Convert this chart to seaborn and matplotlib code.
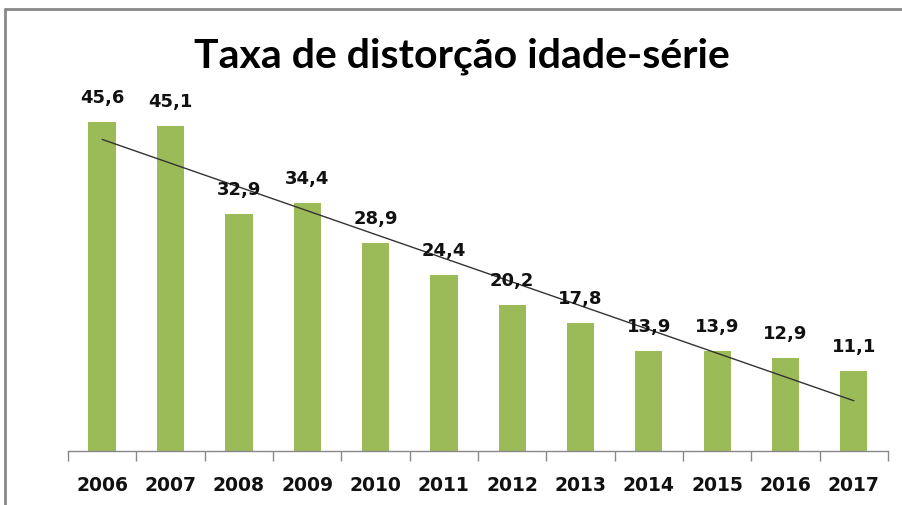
import matplotlib
matplotlib.use("Agg")
import matplotlib.pyplot as plt
import seaborn as sns
import numpy as np
import pandas as pd
from matplotlib.lines import Line2D

years = ["2006", "2007", "2008", "2009", "2010", "2011",
         "2012", "2013", "2014", "2015", "2016", "2017"]
values = [45.6, 45.1, 32.9, 34.4, 28.9, 24.4, 20.2, 17.8, 13.9, 13.9, 12.9, 11.1]
labels = ["45,6", "45,1", "32,9", "34,4", "28,9", "24,4",
          "20,2", "17,8", "13,9", "13,9", "12,9", "11,1"]
title = "Taxa de distorção idade-série"

sns.set_theme(style="white")
plt.rcParams['font.family'] = ['DejaVu Sans']

W, H = 902, 506
fig = plt.figure(figsize=(W / 100, H / 100), dpi=100)
ax = fig.add_axes([68 / W, 54 / H, 820 / W, 360.5 / H])

df = pd.DataFrame({"ano": years, "taxa": values})
sns.barplot(data=df, x="ano", y="taxa", color="#9BBB59", saturation=1,
            width=0.4, ax=ax, edgecolor="none")

# linear trendline
xs = np.arange(len(values))
m, b = np.polyfit(xs, values, 1)
ax.plot([xs[0], xs[-1]], [m * xs[0] + b, m * xs[-1] + b], color="#333333", lw=1.0)

for i, (v, t) in enumerate(zip(values, labels)):
    ax.annotate(t, (i, v), xytext=(0, 11.5), textcoords="offset points",
                ha="center", va="bottom", fontsize=13, fontweight="bold",
                color="#111111")

ax.set_xlim(-0.5, len(values) - 0.5)
ax.set_ylim(0, 50)
ax.set_xlabel("")
ax.set_ylabel("")
ax.set_yticks([])
for s in ["top", "right", "left"]:
    ax.spines[s].set_visible(False)
ax.spines["bottom"].set_color("#888888")
ax.spines["bottom"].set_linewidth(1.0)

ax.set_xticks(np.arange(-0.5, len(values)), minor=True)
ax.tick_params(axis="x", which="minor", length=7, width=1, color="#888888",
               direction="out", bottom=True)
ax.tick_params(axis="x", which="major", length=0, pad=17, labelsize=13.5,
               labelcolor="#111111")
for lab in ax.get_xticklabels():
    lab.set_fontweight("bold")

fig.text(462 / W, 1 - 56 / H, title, ha="center", va="center",
         fontsize=29.5, fontweight="bold", family=["Lato", "DejaVu Sans"],
         color="#000000")

# chart frame (top and left edges visible)
fig.add_artist(Line2D([5 / W, 5 / W], [0, 1 - 10 / H], transform=fig.transFigure,
                      color="#888888", lw=2))
fig.add_artist(Line2D([5 / W, 1], [1 - 10 / H, 1 - 10 / H], transform=fig.transFigure,
                      color="#888888", lw=2))

fig.savefig("out.png", dpi=100)
